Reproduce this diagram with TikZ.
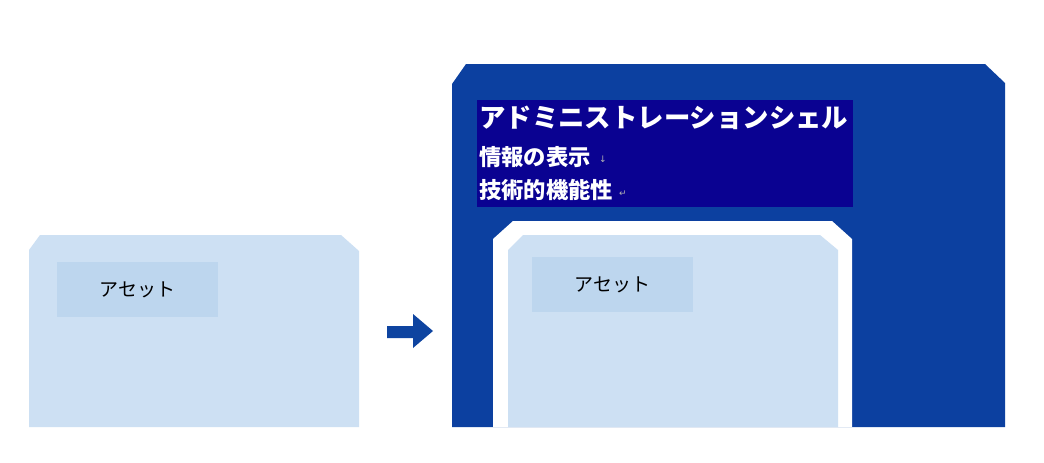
\documentclass[tikz,border=0pt]{standalone}
\usepackage{fontspec}
\newfontfamily\jp{Noto Sans CJK JP}
\newfontfamily\sym{DejaVu Sans}
\definecolor{lightfill}{RGB}{205,224,243}
\definecolor{labelfill}{RGB}{189,214,238}
\definecolor{shellblue}{RGB}{12,64,160}
\definecolor{titlenavy}{RGB}{10,2,145}
\definecolor{arrowblue}{RGB}{14,68,160}
\tikzset{
  labelbox/.style={fill=labelfill, inner sep=0pt, minimum width=161pt, minimum height=55pt, anchor=north west,
    font=\jp\fontsize{19}{19}\selectfont, text=black},
  titletext/.style={anchor=west, inner sep=0pt, text=white},
  markbox/.style={anchor=west, inner sep=0pt, text=gray!60, font=\sym\fontsize{9}{9}\selectfont}
}
\begin{document}
\begin{tikzpicture}[x=1pt,y=-1pt]
\useasboundingbox (0,0) rectangle (1044,463);
\fill[white] (0,0) rectangle (1044,463);
% left asset
\fill[lightfill] (29,250) -- (40,235) -- (341,235) -- (359,251) -- (359,427) -- (29,427) -- cycle;
\node[labelbox] (la) at (57,262) {アセット};
% arrow
\fill[arrowblue] (387,326) -- (413,326) -- (413,314) -- (433,331) -- (413,348) -- (413,338) -- (387,338) -- cycle;
% administration shell
\fill[shellblue] (452,84) -- (466,64) -- (985,64) -- (1005,83) -- (1005,427) -- (452,427) -- cycle;
\fill[titlenavy] (477,100) rectangle (853,207);
\node[titletext, font=\jp\bfseries\fontsize{26.4}{26.4}\selectfont] (t1) at (479,118) {アドミニストレーションシェル};
\node[titletext, font=\jp\bfseries\fontsize{22.3}{22.3}\selectfont] (t2) at (479,157) {情報の表示};
\node[markbox] (m2) at (599,159) {↓};
\node[titletext, font=\jp\bfseries\fontsize{22.3}{22.3}\selectfont] (t3) at (479,190) {技術的機能性};
\node[markbox] (m3) at (619,194) {↵};
% inner asset
\fill[white] (493,239) -- (513,221) -- (832,221) -- (852,239) -- (852,427) -- (493,427) -- cycle;
\fill[lightfill] (508,250) -- (523,235) -- (820,235) -- (838,250) -- (838,427) -- (508,427) -- cycle;
\node[labelbox] (lb) at (532,257) {アセット};
\end{tikzpicture}
\end{document}
